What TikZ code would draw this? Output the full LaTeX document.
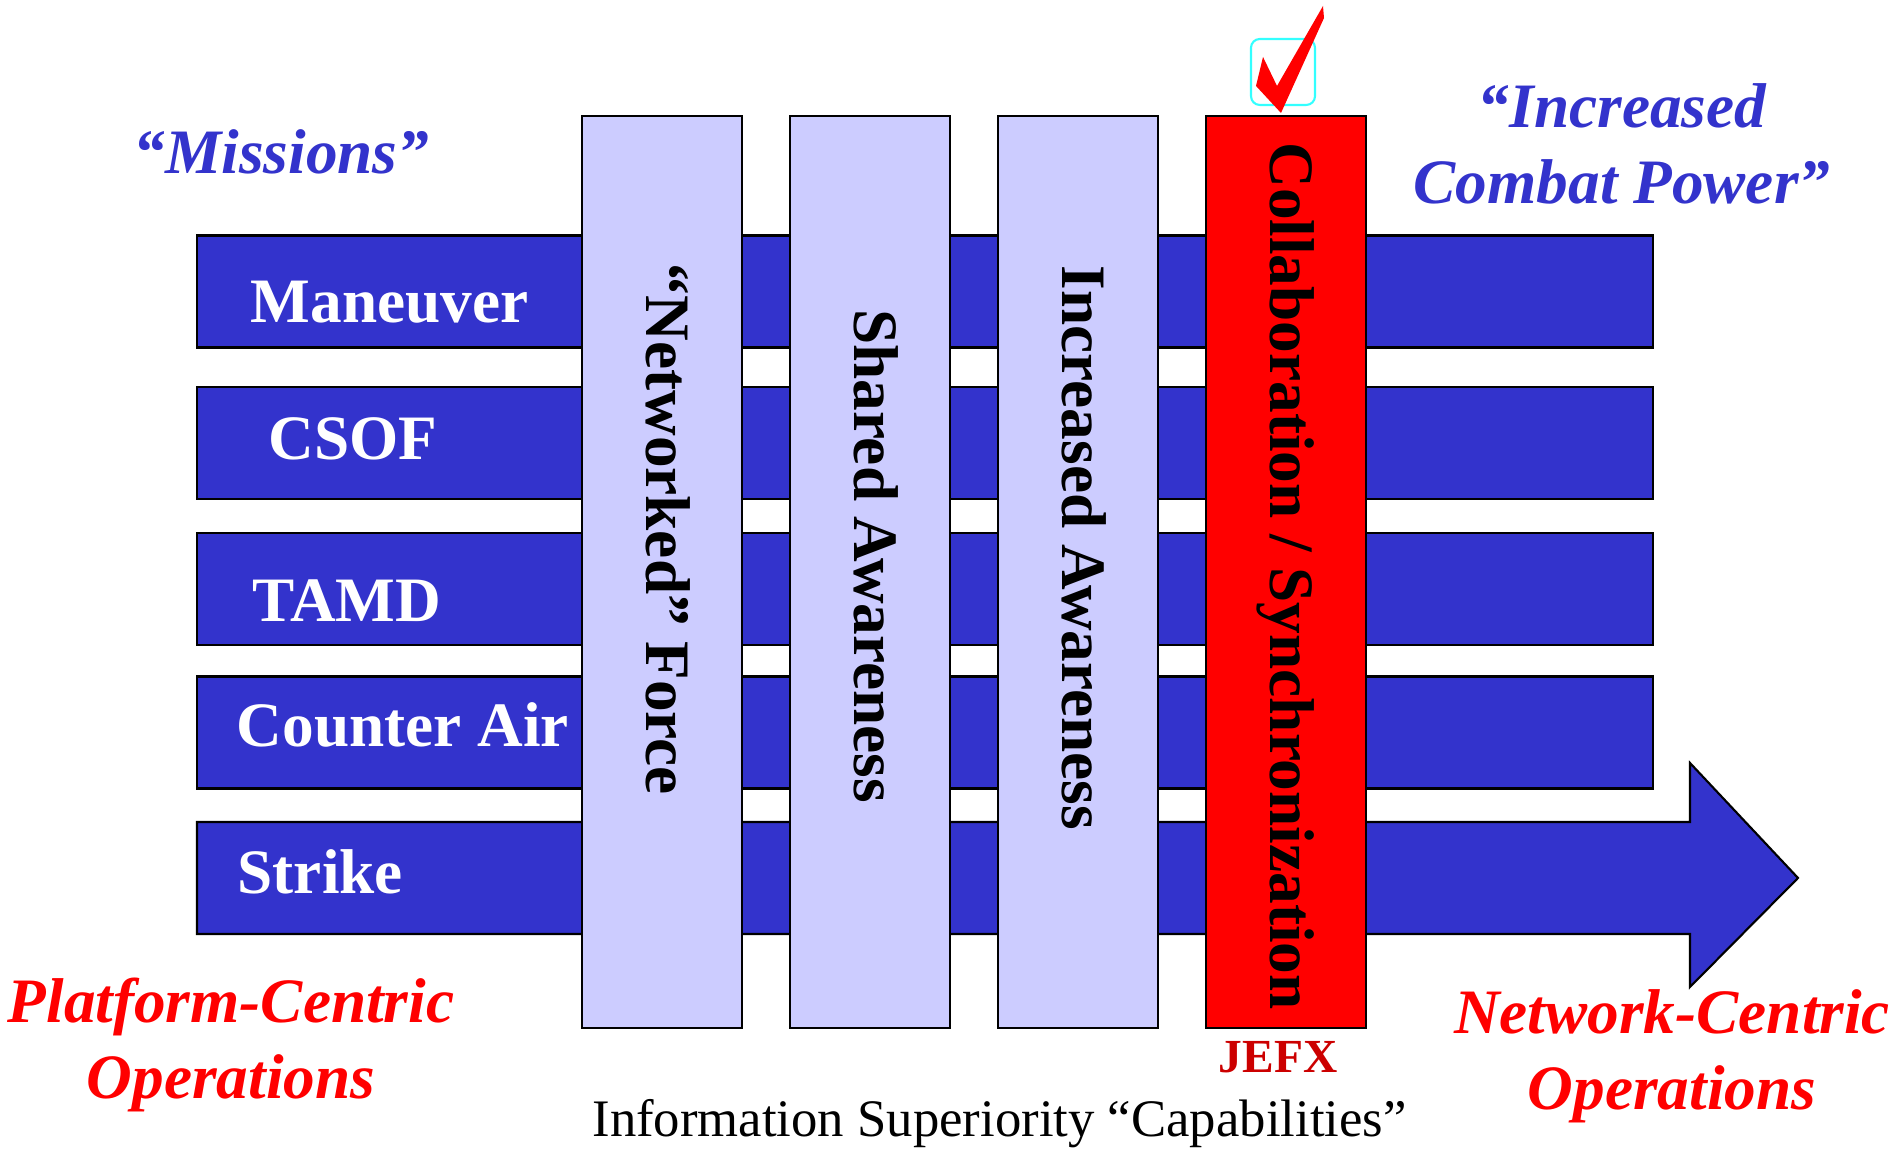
\documentclass[tikz,border=0pt]{standalone}
\usepackage{fontspec}
\setmainfont{Liberation Serif}
\definecolor{barblue}{HTML}{3333CC}
\definecolor{colfill}{HTML}{CCCCFF}
\definecolor{jefxred}{HTML}{CC0000}
\definecolor{boxcyan}{HTML}{33FFFF}
\begin{document}
\begin{tikzpicture}[
    bar/.style={draw=black, fill=barblue, line width=0.6pt, inner sep=0pt,
      minimum width=14.56cm, minimum height=1.12cm},
    col/.style={draw=black, line width=0.6pt, inner sep=0pt,
      minimum width=1.6cm, minimum height=9.12cm},
    barlab/.style={text=white, font=\fontsize{18}{21.8}\selectfont\bfseries,
      anchor=base west, inner sep=0pt},
    collab/.style={font=\fontsize{18}{21.8}\selectfont\bfseries,
      rotate=-90, anchor=base, inner sep=0pt},
    head/.style={font=\fontsize{18}{21.8}\selectfont\bfseries\itshape,
      align=center, anchor=base, inner sep=0pt}
  ]
    \useasboundingbox (0,0) rectangle (18.99,11.50);

    \node[bar] (maneuverbar) at (9.25,8.585) {};
    \node[bar] (csofbar) at (9.25,7.067) {};
    \node[bar] (tamdbar) at (9.25,5.607) {};
    \node[bar] (counterairbar) at (9.25,4.175) {};
    \draw[fill=barblue, line width=0.6pt]
      (1.97,3.28) -- (16.90,3.28) -- (16.90,3.87) -- (17.98,2.72)
      -- (16.90,1.63) -- (16.90,2.16) -- (1.97,2.16) -- cycle;

    \node[barlab] (maneuver) at (2.50,8.27) {Maneuver};
    \node[barlab] (csof) at (2.68,6.90) {CSOF};
    \node[barlab] (tamd) at (2.52,5.28) {TAMD};
    \node[barlab] (counterair) at (2.36,4.03) {Counter Air};
    \node[barlab] (strike) at (2.37,2.565) {Strike};

    \node[col, fill=colfill] (netcol) at (6.62,5.78) {};
    \node[col, fill=colfill] (sharedcol) at (8.70,5.78) {};
    \node[col, fill=colfill] (increasedcol) at (10.78,5.78) {};
    \node[col, fill=red] (collabcol) at (12.86,5.78) {};

    \node[collab] (networked) at (6.46,6.205) {“Networked” Force};
    \node[collab] (shared) at (8.54,5.94) {Shared Awareness};
    \node[collab] (increased) at (10.62,6.02) {Increased Awareness};
    \node[collab] (collaboration) at (12.70,5.74) {Collaboration / Synchronization};

    \draw[boxcyan, line width=0.6pt, rounded corners=2.5pt]
      (12.51,10.45) rectangle (13.15,11.11);
    \fill[red] (12.56,10.64) -- (12.63,10.93) -- (12.77,10.64) -- (13.23,11.44)
      -- (13.24,11.32) -- (12.81,10.37) -- cycle;

    \node[head, text=barblue] (missions) at (2.815,9.76) {“Missions”};
    \node[head, text=barblue] (power) at (16.22,9.46) {“Increased\\Combat Power”};
    \node[head, text=red] (platform) at (2.31,0.51) {Platform-Centric\\Operations};
    \node[head, text=red] (network) at (16.72,0.40) {Network-Centric\\Operations};
    \node[font=\fontsize{13.5}{16}\selectfont\bfseries, text=jefxred, anchor=base,
      inner sep=0pt] (jefx) at (12.78,0.77) {JEFX};
    \node[font=\fontsize{15}{18}\selectfont, anchor=base, inner sep=0pt]
      (capabilities) at (9.995,0.133) {Information Superiority “Capabilities”};
  \end{tikzpicture}
\end{document}
